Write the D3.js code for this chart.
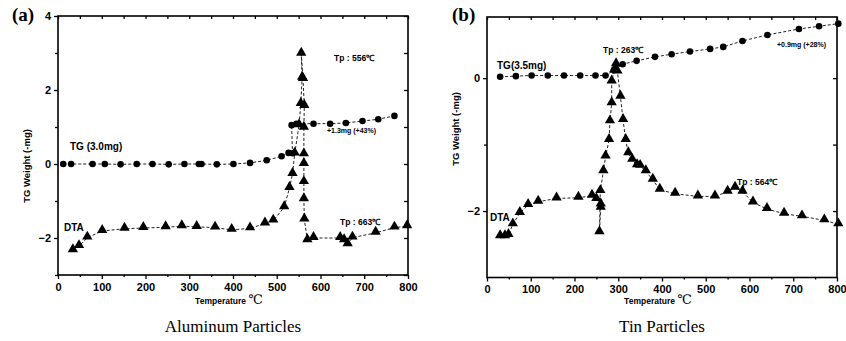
<!DOCTYPE html>
<html>
<head>
  <meta charset="utf-8" />
  <script src="https://d3js.org/d3.v7.min.js"></script>
  <style>
    body { margin: 0; background: #fff; }
    .tick text { font: bold 11px "Liberation Sans", Arial, sans-serif; }
    .mk { fill: #000; }
    .line { fill: none; stroke: #222; stroke-width: 1; stroke-dasharray: 3,2; }
    .ann { font-family: "Liberation Sans", Arial, sans-serif; font-weight: bold; }
  </style>
</head>
<body>
  <script>
    // ---- data (temperature C, value mg) ----
    var alTG = [[12,0],[30,0],[79,0],[107,0],[143,-0.01],[180,0],[216,0],[253,-0.01],[289,0],[322,0],
      [328,0],[363,-0.01],[401,0],[439,0.03],[477,0.1],[511,0.21],[527,0.3],[536,0.29],
      [534,1.05],[545,1.09],[584,1.09],[622,1.09],[658,1.11],[696,1.16],[732,1.21],[769,1.3]];
    var alDTA = [[34,-2.33],[48,-2.22],[67,-1.99],[101,-1.81],[152,-1.75],[195,-1.73],[246,-1.71],[283,-1.68],
      [317,-1.7],[359,-1.72],[397,-1.78],[439,-1.74],[473,-1.61],[492,-1.53],[517,-1.17],[529,-0.65],
      [536,-0.27],[541,0.28],[551,1.05],[555,1.62],[558,2.33],[556,2.98],[560,2.3],[563,1.57],
      [562,0.98],[562,0.26],[562,0],[562,-0.49],[562,-0.95],[563,-1.5],[570,-2.06],[584,-2.0],
      [645,-2.0],[654,-2.06],[662,-2.17],[673,-1.99],[726,-1.86],[769,-1.72],[798,-1.68]];
    var snTG = [[30,0.02],[66,0.03],[102,0.04],[139,0.04],[176,0.04],[213,0.04],[248,0.04],[271,0.04],
      [290,0.12],[310,0.21],[342,0.26],[384,0.32],[422,0.36],[464,0.4],[510,0.44],[540,0.47],
      [584,0.56],[641,0.65],[713,0.74],[759,0.78],[803,0.82]];
    var snDTA = [[30,-2.38],[41,-2.38],[49,-2.36],[59,-2.2],[75,-2.03],[94,-1.91],[117,-1.86],[159,-1.81],
      [209,-1.8],[240,-1.77],[250,-1.82],[260,-1.9],[260,-1.95],[257,-2.32],[259,-1.7],[266,-1.4],
      [271,-1.18],[279,-0.93],[281,-0.65],[285,-0.38],[285,-0.05],[291,0.12],[295,0.21],[298,0.1],
      [305,-0.28],[311,-0.63],[317,-0.93],[323,-1.13],[332,-1.23],[343,-1.31],[350,-1.32],[363,-1.4],
      [379,-1.53],[395,-1.68],[430,-1.74],[482,-1.78],[521,-1.78],[550,-1.71],[567,-1.65],[584,-1.71],
      [608,-1.87],[640,-1.97],[679,-2.04],[720,-2.08],[771,-2.14],[803,-2.2]];
    var xTicks = [0,100,200,300,400,500,600,700,800];

    var svg = d3.select("body").append("svg").attr("width", 846).attr("height", 341);

    function panel(p) {
      var x = d3.scaleLinear().domain([0, 800]).range([p.x0, p.x1]);
      var y = d3.scaleLinear().domain(p.yDom).range([p.y0, p.y1]);
      var g = svg.append("g");

      // frame
      g.append("rect").attr("x", p.x0).attr("y", p.y1)
        .attr("width", p.x1 - p.x0).attr("height", p.y0 - p.y1)
        .attr("fill", "none").attr("stroke", "#000").attr("stroke-width", 1.6);

      var minorX = d3.range(50, 800, 100);
      g.append("g").attr("transform", `translate(0 ${p.y0})`)
        .call(d3.axisBottom(x).tickValues(xTicks).tickSize(4).tickPadding(4).tickFormat(d3.format("d")));
      g.append("g").attr("transform", `translate(0 ${p.y0})`)
        .call(d3.axisBottom(x).tickValues(minorX).tickSize(2).tickFormat(""));
      g.append("g").attr("transform", `translate(0 ${p.y1})`)
        .call(d3.axisBottom(x).tickValues(xTicks.concat(minorX)).tickSize(3).tickFormat(""));

      g.append("g").attr("transform", `translate(${p.x0} 0)`)
        .call(d3.axisLeft(y).tickValues(p.yLab).tickSize(4).tickPadding(3).tickFormat(d3.format("d")));
      g.append("g").attr("transform", `translate(${p.x0} 0)`)
        .call(d3.axisLeft(y).tickValues(p.yMinor).tickSize(3).tickFormat(""));
      g.append("g").attr("transform", `translate(${p.x1} 0)`)
        .call(d3.axisLeft(y).tickValues(p.yLab.concat(p.yMinor)).tickSize(4).tickFormat(""));

      g.selectAll(".domain").remove();
      g.selectAll(".tick line").attr("stroke", "#000").attr("stroke-width", 1.3);

      var line = d3.line().x(function(d) { return x(d[0]); }).y(function(d) { return y(d[1]); });
      [p.tg, p.dta].forEach(function(s) {
        g.append("path").attr("class", "line").attr("d", line(s));
      });

      var circ = d3.symbol().type(d3.symbolCircle).size(34);
      var tri = d3.symbol().type(d3.symbolTriangle).size(46);
      g.selectAll(null).data(p.tg).enter().append("path").attr("class", "mk")
        .attr("d", circ).attr("transform", function(d) { return `translate(${x(d[0])} ${y(d[1])})`; });
      g.selectAll(null).data(p.dta).enter().append("path").attr("class", "mk")
        .attr("d", tri).attr("transform", function(d) { return `translate(${x(d[0])} ${y(d[1]) - 1})`; });

      // axis titles
      g.append("text").attr("class", "ann").attr("transform", `translate(${p.yLabX} ${p.yLabY}) rotate(-90)`)
        .attr("text-anchor", "middle").attr("font-size", 9.5).text("TG  Weight (-mg)");
      g.append("text").attr("class", "ann").attr("x", (p.x0 + p.x1) / 2 - 4).attr("y", 304)
        .attr("text-anchor", "middle").attr("font-size", 8.5)
        .text("Temperature ").append("tspan").attr("font-size", 13).attr("font-weight", "normal")
        .attr("font-family", "'DejaVu Serif', serif").text("℃");
      g.append("text").attr("x", (p.x0 + p.x1) / 2).attr("y", 332)
        .attr("text-anchor", "middle").attr("font-family", "'Liberation Serif', 'Times New Roman', serif")
        .attr("font-size", 17).text(p.title);
      g.append("text").attr("x", p.tagX).attr("y", 21)
        .attr("font-family", "'Liberation Serif', 'Times New Roman', serif")
        .attr("font-weight", "bold").attr("font-size", 19).text(p.tag);

      p.notes.forEach(function(n) {
        g.append("text").attr("class", "ann").attr("x", n[0]).attr("y", n[1])
          .attr("font-size", n[3] || 8).text(n[2]);
      });
    }

    panel({
      x0: 58, x1: 408, y0: 275, y1: 16, yDom: [-3, 4],
      yLab: [-2, 0, 2, 4], yMinor: [-3, -1, 1, 3],
      tg: alTG, dta: alDTA, yLabX: 30, yLabY: 166,
      title: "Aluminum Particles", tag: "(a)", tagX: 12,
      notes: [[70, 150, "TG (3.0mg)", 10], [64, 231, "DTA", 10], [334, 61, "Tp : 556℃", 8.5],
              [327, 133, "+1.3mg (+43%)", 7], [340, 225, "Tp : 663℃", 8.5]]
    });
    panel({
      x0: 487, x1: 837, y0: 277.5, y1: 17, yDom: [-3, 0.92],
      yLab: [-2, 0], yMinor: [-1],
      tg: snTG, dta: snDTA, yLabX: 459, yLabY: 129,
      title: "Tin Particles", tag: "(b)", tagX: 452,
      notes: [[497, 69, "TG(3.5mg)", 10], [490, 221, "DTA", 10], [603, 53, "Tp : 263℃", 8.5],
              [777, 47, "+0.9mg (+28%)", 7], [737, 185, "Tp : 564℃", 8.5]]
    });
  </script>
</body>
</html>
